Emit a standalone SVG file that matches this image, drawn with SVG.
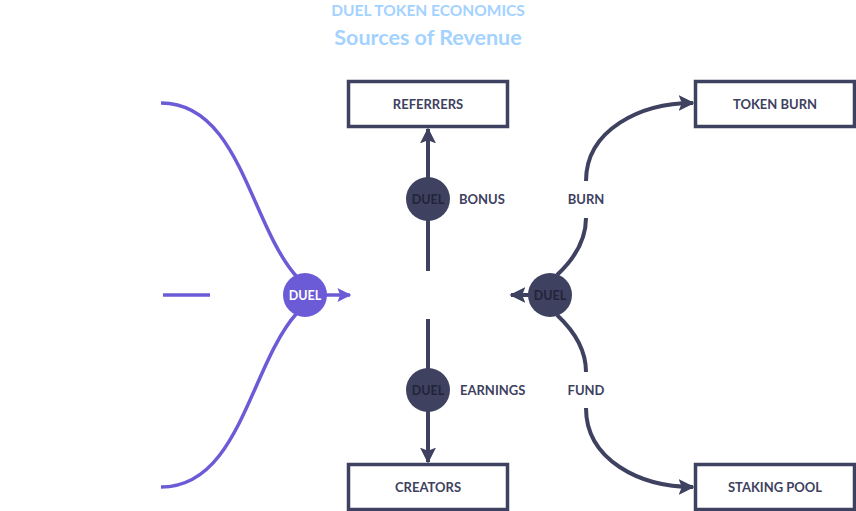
<svg xmlns="http://www.w3.org/2000/svg" width="856" height="511" viewBox="0 0 856 511">
<defs>
<style>
.t{font-family:Lato,"Open Sans",sans-serif;font-weight:bold;}
.box{fill:#fff;stroke:#3e415f;stroke-width:3.5;}
.lbl{font-size:13px;fill:#3e415f;text-anchor:middle;dominant-baseline:central;}
.side{font-size:13px;fill:#3e415f;dominant-baseline:central;}
.dk{fill:none;stroke:#3e415f;stroke-width:4;}
.pu{fill:none;stroke:#6c5bd6;stroke-width:3.5;}
.cd{fill:#3e415f;}
.cp{fill:#6c5bd6;}
.ctxt{font-size:12.5px;text-anchor:middle;dominant-baseline:central;}
</style>
<marker id="ad" viewBox="0 0 10 10" refX="9" refY="5" markerWidth="4" markerHeight="4" orient="auto" markerUnits="strokeWidth"><path d="M0,0 L10,5 L0,10 L2,5 z" fill="#3e415f"/></marker>
<marker id="ap" viewBox="0 0 10 10" refX="9" refY="5" markerWidth="5" markerHeight="4" orient="auto" markerUnits="strokeWidth"><path d="M0,0 L10,5 L0,10 L2,5 z" fill="#6c5bd6"/></marker>
</defs>
<g id="title">
<text class="t" x="428" y="10" font-size="15.5" fill="#a3d2ff" text-anchor="middle" dominant-baseline="central">DUEL TOKEN ECONOMICS</text>
<text class="t" x="428" y="37" font-size="21.5" fill="#a3d2ff" text-anchor="middle" dominant-baseline="central">Sources of Revenue</text>
</g>
<g id="connectors">
<path class="pu" d="M161,103 C240,103 250,225 297,277"/>
<path class="pu" d="M161,487 C240,487 250,365 297,313"/>
<path class="pu" d="M163,295 L210,295"/>
<path class="pu" d="M325,295 L350,295" marker-end="url(#ap)"/>
<path class="dk" d="M428,271 L428,129" marker-end="url(#ad)"/>
<path class="dk" d="M428,319 L428,462" marker-end="url(#ad)"/>
<path class="dk" d="M530,295 L511,295" marker-end="url(#ad)"/>
<path class="dk" d="M557,275 Q586,248 586,218"/>
<path class="dk" d="M586,181 C586,130 640,103 693,103" marker-end="url(#ad)"/>
<path class="dk" d="M557,315 Q586,342 586,372"/>
<path class="dk" d="M586,408 C586,460 640,487 693,487" marker-end="url(#ad)"/>
</g>
<g id="referrers"><rect class="box" x="348.5" y="81.5" width="159" height="45"/><text class="t lbl" x="428" y="104">REFERRERS</text></g>
<g id="token-burn"><rect class="box" x="695.5" y="81.5" width="159" height="45"/><text class="t lbl" x="775" y="104">TOKEN BURN</text></g>
<g id="creators"><rect class="box" x="348.5" y="464.5" width="159" height="45"/><text class="t lbl" x="428" y="487">CREATORS</text></g>
<g id="staking-pool"><rect class="box" x="695.5" y="464.5" width="159" height="45"/><text class="t lbl" x="775" y="487">STAKING POOL</text></g>
<g id="duel-purple"><circle class="cp" cx="305" cy="295" r="22"/><text class="t ctxt" x="305" y="295" fill="#fff">DUEL</text></g>
<g id="duel-bonus"><circle class="cd" cx="428" cy="199" r="22"/><text class="t ctxt" x="428" y="199" fill="#22243a">DUEL</text><text class="t side" x="459" y="199">BONUS</text></g>
<g id="duel-earnings"><circle class="cd" cx="428" cy="390" r="22"/><text class="t ctxt" x="428" y="390" fill="#22243a">DUEL</text><text class="t side" x="460" y="390">EARNINGS</text></g>
<g id="duel-right"><circle class="cd" cx="550" cy="295" r="22"/><text class="t ctxt" x="550" y="295" fill="#22243a">DUEL</text></g>
<g id="labels"><text class="t lbl" x="586" y="199">BURN</text><text class="t lbl" x="586" y="390">FUND</text></g>
</svg>
